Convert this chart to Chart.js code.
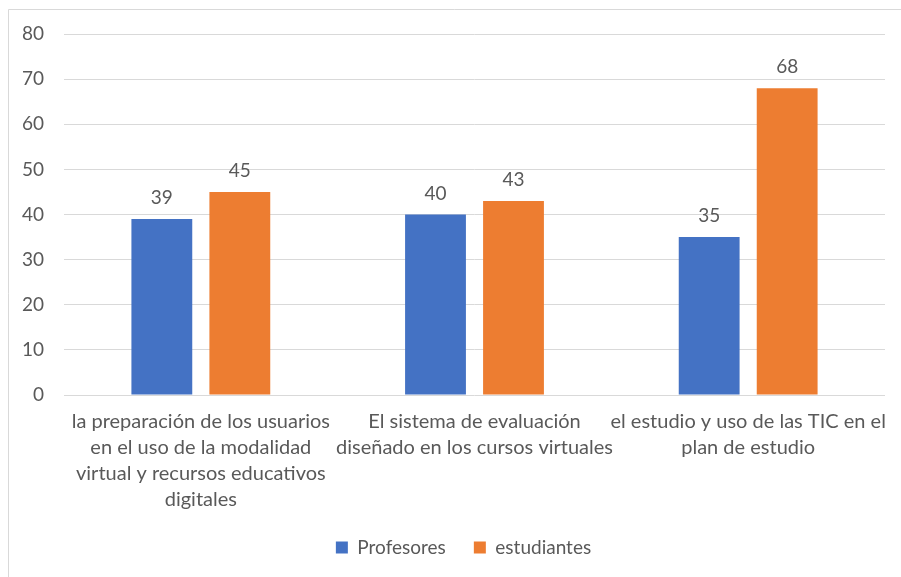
<!DOCTYPE html>
<html>
<head>
<meta charset="utf-8">
<script src="https://cdn.jsdelivr.net/npm/chart.js@4"></script>
<style>
html,body{margin:0;padding:0;background:#fff;}
#wrap{position:relative;width:901px;height:577px;}
</style>
</head>
<body>
<div id="wrap"><canvas id="c" width="901" height="577"></canvas></div>
<script>
const categories = [
  ["la preparación de los usuarios","en el uso de la modalidad","virtual y recursos educativos","digitales"],
  ["El sistema de evaluación","diseñado en los cursos virtuales"],
  ["el estudio y uso de las TIC en el","plan de estudio"]
];
const seriesNames = ["Profesores","estudiantes"];
const profesores = [39, 40, 35];
const estudiantes = [45, 43, 68];
const yTicks = [0,10,20,30,40,50,60,70,80];

const FONT = "Lato, 'Liberation Sans', sans-serif";
const TEXT = "#595959";

const frame = {
  id: 'frame',
  beforeDraw(chart){
    const ctx = chart.ctx;
    ctx.save();
    ctx.fillStyle = '#fff';
    ctx.fillRect(0,0,chart.width,chart.height);
    ctx.strokeStyle = '#d9d9d9';
    ctx.lineWidth = 1;
    ctx.beginPath();
    ctx.moveTo(8.5, chart.height);
    ctx.lineTo(8.5, 9.5);
    ctx.lineTo(chart.width, 9.5);
    ctx.stroke();
    ctx.restore();
  }
};

const legendShift = {
  id: 'legendShift',
  afterLayout(chart){
    if (chart.legend) { chart.legend.left += 21; chart.legend.right += 21; }
  }
};

const valueLabels = {
  id: 'valueLabels',
  afterDatasetsDraw(chart){
    const ctx = chart.ctx;
    ctx.save();
    ctx.font = "19px " + FONT;
    ctx.fillStyle = TEXT;
    ctx.textAlign = 'center';
    ctx.textBaseline = 'alphabetic';
    chart.data.datasets.forEach((ds, i) => {
      chart.getDatasetMeta(i).data.forEach((bar, j) => {
        ctx.fillText(String(ds.data[j]), bar.x, bar.y - 15);
      });
    });
    ctx.restore();
  }
};

new Chart(document.getElementById('c'), {
  type: 'bar',
  data: {
    labels: categories,
    datasets: [
      { label: seriesNames[0], data: profesores, backgroundColor: '#4472C4', categoryPercentage: 0.57, barPercentage: 0.78 },
      { label: seriesNames[1], data: estudiantes, backgroundColor: '#ED7D31', categoryPercentage: 0.57, barPercentage: 0.78 }
    ]
  },
  options: {
    responsive: false,
    animation: false,
    events: [],
    layout: { padding: { left: 0, right: 16, top: 34, bottom: 10 } },
    plugins: {
      legend: {
        position: 'bottom',
        labels: {
          boxWidth: 12, boxHeight: 12, padding: 28,
          color: TEXT, font: { family: FONT, size: 19 }
        }
      },
      tooltip: { enabled: false }
    },
    scales: {
      x: {
        grid: { display: false },
        border: { display: false },
        ticks: { color: TEXT, font: { family: FONT, size: 20, lineHeight: 1.3 }, padding: 6, maxRotation: 0, autoSkip: false },
        afterFit(s){ s.height = 115; }
      },
      y: {
        min: 0, max: 80,
        afterBuildTicks(s){ s.ticks = yTicks.map(v => ({ value: v })); },
        grid: { color: '#d9d9d9', drawTicks: false },
        border: { display: false },
        ticks: { color: TEXT, font: { family: FONT, size: 19 }, padding: 20 },
        afterFit(s){ s.width = 64; }
      }
    }
  },
  plugins: [frame, legendShift, valueLabels]
});
</script>
</body>
</html>
